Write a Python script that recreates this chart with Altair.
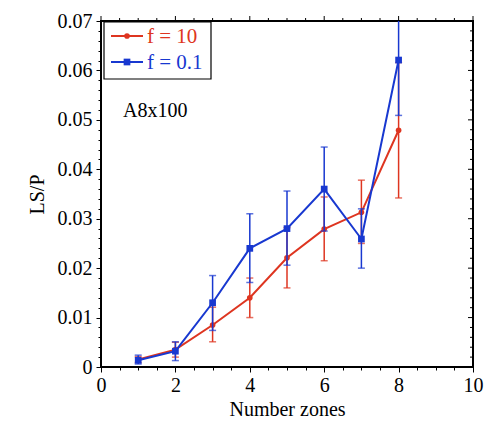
import altair as alt
import pandas as pd

# ---- data ----
zones = [1, 2, 3, 4, 5, 6, 7, 8]
series_names = ["f = 10", "f = 0.1"]

red_y = [0.0015, 0.0035, 0.0085, 0.0140, 0.0221, 0.0279, 0.0313, 0.0479]
red_lo = [0.0009, 0.0020, 0.0051, 0.0100, 0.0160, 0.0215, 0.0250, 0.0342]
red_hi = [0.0021, 0.0050, 0.0121, 0.0180, 0.0282, 0.0344, 0.0378, 0.0616]

blue_y = [0.00136, 0.0032, 0.0130, 0.0240, 0.0280, 0.0360, 0.0259, 0.0621]
blue_lo = [0.0006, 0.0013, 0.0074, 0.0171, 0.0206, 0.0275, 0.0200, 0.0509]
blue_hi = [0.0024, 0.0051, 0.0185, 0.0310, 0.0356, 0.0445, 0.0320, 0.0733]

x_major = [0, 2, 4, 6, 8, 10]
x_minor = [0.5, 1, 1.5, 2.5, 3, 3.5, 4.5, 5, 5.5, 6.5, 7, 7.5, 8.5, 9, 9.5]
y_major = [0, 0.01, 0.02, 0.03, 0.04, 0.05, 0.06, 0.07]
y_minor = [round(0.002 * i, 3) for i in range(36) if i % 5 != 0]
annotation = "A8x100"

RED = "#de3520"
BLUE = "#1838d0"
FONT = "Liberation Serif"

W, H = 372, 346

df_red = pd.DataFrame({"x": zones, "y": red_y, "lo": red_lo, "hi": red_hi})
df_blue = pd.DataFrame({"x": zones, "y": blue_y, "lo": blue_lo, "hi": blue_hi})

xscale = alt.Scale(domain=[0, 10], nice=False, zero=False)
yscale = alt.Scale(domain=[0, 0.07], nice=False, zero=False)

x_vals = sorted(x_major + x_minor)
y_vals = sorted(y_major + y_minor)
x_test = "datum.value % 2 === 0"
y_test = "abs(datum.value * 100 - round(datum.value * 100)) < 1e-6"

xaxis = alt.Axis(
    values=x_vals, format="~g",
    labelExpr=f"{x_test} ? datum.label : ''",
    tickSize={"condition": {"test": x_test, "value": 5}, "value": 3},
    domain=False, grid=False, labelOverlap=False, labelFlush=False,
    labelPadding=3, titlePadding=4, title="Number zones",
    labelFont=FONT, labelFontSize=20, labelColor="black",
    titleFont=FONT, titleFontSize=20, titleFontWeight="normal", titleColor="black",
    tickColor="black", tickWidth=1,
)
yaxis = alt.Axis(
    values=y_vals, format="~g",
    labelExpr=f"{y_test} ? datum.label : ''",
    tickSize={"condition": {"test": y_test, "value": 5}, "value": 3},
    domain=False, grid=False, labelOverlap=False, labelFlush=False,
    labelPadding=4, titlePadding=10, title="LS/P",
    labelFont=FONT, labelFontSize=20, labelColor="black",
    titleFont=FONT, titleFontSize=20, titleFontWeight="normal", titleColor="black",
    tickColor="black", tickWidth=1,
)


def X(f):
    return alt.X(f"{f}:Q", scale=xscale, axis=xaxis)


def Y(f):
    return alt.Y(f"{f}:Q", scale=yscale, axis=yaxis)


def series_layers(df, color, shape, size):
    base = alt.Chart(df)
    bars = base.mark_rule(color=color, strokeWidth=1.5, clip=True).encode(
        x=X("x"), y=Y("lo"), y2="hi")
    cap_lo = base.mark_tick(color=color, orient="horizontal", size=7, thickness=1.5,
                            clip=True).encode(x=X("x"), y=Y("lo"))
    cap_hi = base.mark_tick(color=color, orient="horizontal", size=7, thickness=1.5,
                            clip=True).encode(x=X("x"), y=Y("hi"))
    line = base.mark_line(color=color, strokeWidth=2, clip=True).encode(x=X("x"), y=Y("y"))
    pts = base.mark_point(color=color, filled=True, opacity=1, shape=shape, size=size,
                          clip=True).encode(x=X("x"), y=Y("y"))
    return [bars, cap_lo, cap_hi, line, pts]


# ---- mirrored ticks on top (outward) and right (inward) ----
top_major = alt.Chart(pd.DataFrame({"x": x_major})).mark_rule(color="black").encode(
    x=X("x"), y=alt.value(0), y2=alt.value(-5))
top_minor = alt.Chart(pd.DataFrame({"x": x_minor})).mark_rule(color="black").encode(
    x=X("x"), y=alt.value(0), y2=alt.value(-3))
right_major = alt.Chart(pd.DataFrame({"y": y_major})).mark_rule(color="black").encode(
    y=Y("y"), x=alt.value(W - 5), x2=alt.value(W))
right_minor = alt.Chart(pd.DataFrame({"y": y_minor})).mark_rule(color="black").encode(
    y=Y("y"), x=alt.value(W - 3), x2=alt.value(W))

# ---- legend box ----
one = pd.DataFrame({"k": [0]})
leg_box = alt.Chart(one).mark_rect(fill="white", stroke="black", strokeWidth=1.2).encode(
    x=alt.value(3), x2=alt.value(110), y=alt.value(1), y2=alt.value(58))


def legend_row(name, color, shape, size, ypx):
    d = pd.DataFrame({"label": [name]})
    ln = alt.Chart(d).mark_rule(color=color, strokeWidth=2).encode(
        x=alt.value(10), x2=alt.value(42), y=alt.value(ypx))
    pt = alt.Chart(d).mark_point(color=color, filled=True, opacity=1, shape=shape,
                                 size=size).encode(x=alt.value(26), y=alt.value(ypx))
    tx = alt.Chart(d).mark_text(color=color, font=FONT, fontSize=21, align="left",
                                baseline="middle").encode(
        x=alt.value(46), y=alt.value(ypx + 1), text="label:N")
    return [ln, pt, tx]


ann = alt.Chart(pd.DataFrame({"t": [annotation]})).mark_text(
    font=FONT, fontSize=20, align="left", baseline="alphabetic", color="black").encode(
    x=alt.value(22), y=alt.value(96), text="t:N")

layers = (
    series_layers(df_red, RED, "circle", 32)
    + series_layers(df_blue, BLUE, "square", 45)
    + [top_major, top_minor, right_major, right_minor, leg_box]
    + legend_row(series_names[0], RED, "circle", 32, 15)
    + legend_row(series_names[1], BLUE, "square", 45, 41)
    + [ann]
)

chart = alt.layer(*layers).properties(
    width=W, height=H,
    background="white",
    autosize=alt.AutoSizeParams(type="none"),
    padding={"left": 101, "top": 21, "right": 11, "bottom": 57},
).configure_view(stroke="black", strokeWidth=2)

chart.save("out.html", embed_options={"renderer": "svg", "actions": False})
